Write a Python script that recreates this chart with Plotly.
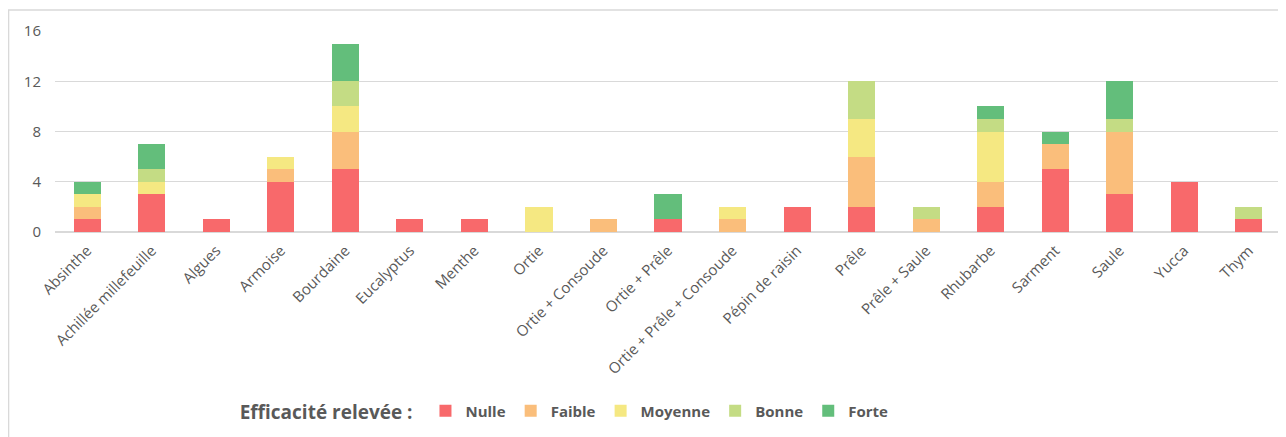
import plotly.graph_objects as go

# Plantes / préparations testées
plantes = ["Absinthe", "Achillée millefeuille", "Algues", "Armoise", "Bourdaine",
           "Eucalyptus", "Menthe", "Ortie", "Ortie + Consoude", "Ortie + Prêle",
           "Ortie + Prêle + Consoude", "Pépin de raisin", "Prêle", "Prêle + Saule",
           "Rhubarbe", "Sarment", "Saule", "Yucca", "Thym"]

nulle   = [1, 3, 1, 4, 5, 1, 1, 0, 0, 1, 0, 2, 2, 0, 2, 5, 3, 4, 1]
faible  = [1, 0, 0, 1, 3, 0, 0, 0, 1, 0, 1, 0, 4, 1, 2, 2, 5, 0, 0]
moyenne = [1, 1, 0, 1, 2, 0, 0, 2, 0, 0, 1, 0, 3, 0, 4, 0, 0, 0, 0]
bonne   = [0, 1, 0, 0, 2, 0, 0, 0, 0, 0, 0, 0, 3, 1, 1, 0, 1, 0, 1]
forte   = [1, 2, 0, 0, 3, 0, 0, 0, 0, 2, 0, 0, 0, 0, 1, 1, 3, 0, 0]

y_ticks = [0, 4, 8, 12, 16]

GRID = "#d9d9d9"
TXT = "#595959"
FONT = "Open Sans"

series = [("Nulle", nulle, "#f8696b"),
          ("Faible", faible, "#fabe7b"),
          ("Moyenne", moyenne, "#f5e882"),
          ("Bonne", bonne, "#c4dc84"),
          ("Forte", forte, "#63be7b")]

fig = go.Figure()
for name, vals, clr in series:
    fig.add_trace(go.Bar(
        x=plantes, y=vals, name=name,
        marker=dict(color=clr, line=dict(width=0)),
    ))

# the page body adds an 8px margin, so the figure is 8px smaller than the window
fig.update_layout(
    width=1278, height=429,
    margin=dict(l=47, r=5, t=23, b=205),
    paper_bgcolor="white", plot_bgcolor="white",
    barmode="stack", bargap=0.58,
    font=dict(family=FONT, color=TXT, size=13),
    showlegend=True,
    legend=dict(
        orientation="h", traceorder="normal",
        x=0.149, xanchor="left", y=-0.8955, yanchor="middle",
        title=dict(text="<b>Efficacité relevée :</b> ", side="left",
                   font=dict(size=19, color=TXT, family=FONT)),
        font=dict(size=15, color=TXT, family=FONT, weight="bold"),
        itemclick=False, bgcolor="rgba(0,0,0,0)",
    ),
    # cadre extérieur du graphique
    shapes=[dict(type="rect", xref="paper", yref="paper",
                 x0=-0.0379, x1=1.02, y0=-1.1, y1=1.1045,
                 line=dict(color=GRID, width=1.5), layer="below")],
)
fig.update_xaxes(
    tickangle=-45, showgrid=False, showline=False, ticks="",
    ticklabelstandoff=6,
    tickfont=dict(size=15, color=TXT, family=FONT),
)
fig.update_yaxes(
    range=[0, 16], tickvals=y_ticks, showgrid=True, gridcolor=GRID,
    zeroline=True, zerolinecolor=GRID, showline=False, ticks="",
    ticklabelstandoff=13,
    tickfont=dict(size=15, color=TXT, family=FONT),
)

fig.write_html("out.html")
